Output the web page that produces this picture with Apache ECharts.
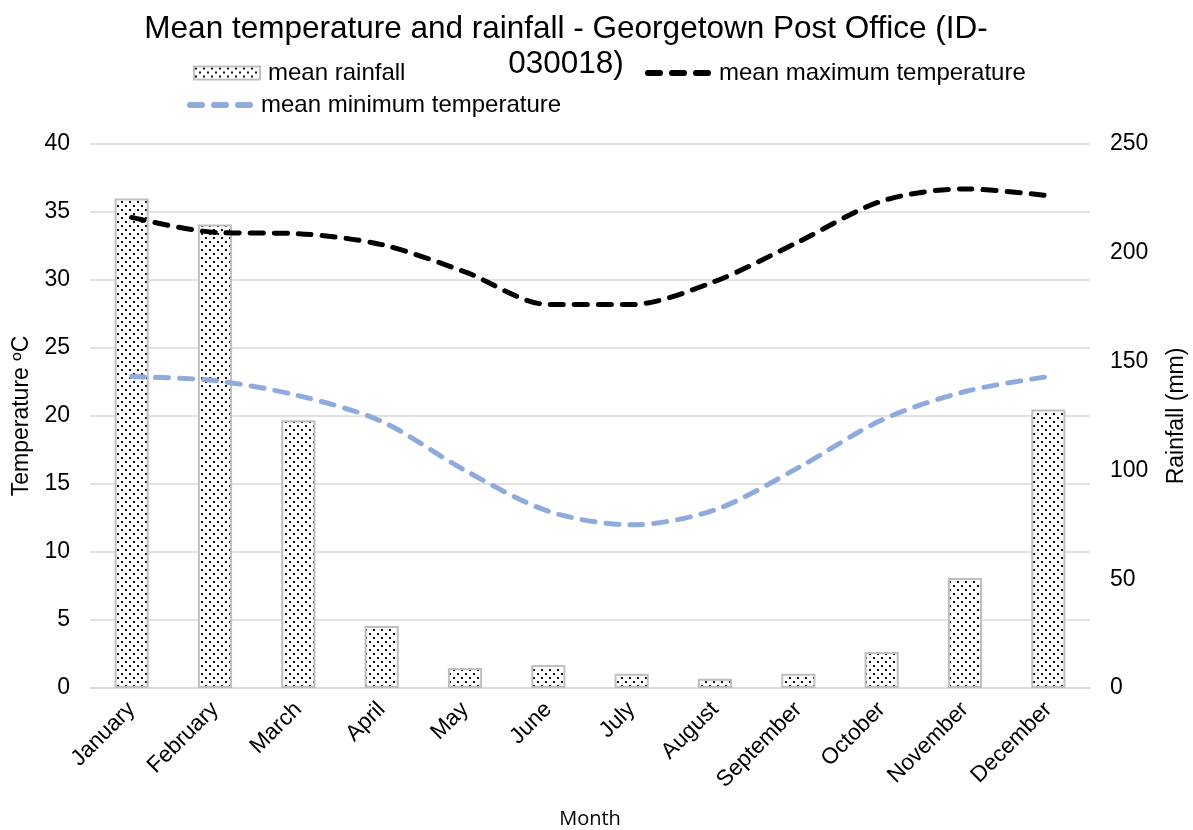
<!DOCTYPE html>
<html>
<head>
<meta charset="utf-8">
<script src="https://cdn.jsdelivr.net/npm/echarts@6/dist/echarts.min.js"></script>
<style>
  html, body { margin: 0; padding: 0; background: #fff; }
  #chart { width: 1193px; height: 830px; }
</style>
</head>
<body>
<div id="chart"></div>
<script>
// Monthly climate averages, Georgetown Post Office (station 030018)
const months = ['January', 'February', 'March', 'April', 'May', 'June',
  'July', 'August', 'September', 'October', 'November', 'December'];
const meanRainfall = [225, 213, 123, 28.5, 9.2, 10.6, 6.5, 4.2, 6.5, 16.5, 50.5, 128];
const meanMaxTemp = [34.6, 33.5, 33.4, 32.6, 30.6, 28.2, 28.2, 29.9, 32.8, 35.8, 36.7, 36.2];
const meanMinTemp = [22.9, 22.6, 21.5, 19.6, 16.0, 13.0, 12.0, 13.1, 16.2, 19.7, 21.8, 22.9];
const tempTicks = [0, 40, 5];
const rainTicks = [0, 250, 50];

const FONT = '"Liberation Sans", Arial, sans-serif';

// Small dotted tile used to fill the rainfall bars
function dotTile() {
  const c = document.createElement('canvas');
  c.width = 8; c.height = 8;
  const g = c.getContext('2d');
  g.fillStyle = '#ffffff';
  g.fillRect(0, 0, 8, 8);
  g.fillStyle = '#111111';
  g.fillRect(1, 1, 2, 2);
  g.fillRect(5, 5, 2, 2);
  return c;
}
const dots = { image: dotTile(), repeat: 'repeat' };

// Three rounded dashes, used as the legend key of the dashed lines
const dashIcon = 'path://M3,0 h12 a3,3 0 0 1 0,6 h-12 a3,3 0 0 1 0,-6 z' +
  ' M27,0 h12 a3,3 0 0 1 0,6 h-12 a3,3 0 0 1 0,-6 z' +
  ' M51,0 h12 a3,3 0 0 1 0,6 h-12 a3,3 0 0 1 0,-6 z';

const legendText = { fontFamily: FONT, fontSize: 24, color: '#000', padding: [0, 0, 0, 3] };

const chart = echarts.init(document.getElementById('chart'), null, { renderer: 'canvas' });

chart.setOption({
  animation: false,
  backgroundColor: '#ffffff',
  textStyle: { fontFamily: FONT },
  title: {
    text: 'Mean temperature and rainfall - Georgetown Post Office (ID-\n030018)',
    left: 566,
    top: 12,
    padding: 0,
    textAlign: 'center',
    textStyle: { fontFamily: FONT, fontSize: 31.5, fontWeight: 'normal', color: '#000', lineHeight: 35 }
  },
  legend: [
    {
      data: [{ name: 'mean rainfall', icon: 'rect' }], left: 193, top: 61, padding: 0,
      itemWidth: 66, itemHeight: 13, itemGap: 8, textStyle: legendText
    },
    {
      data: [{ name: 'mean maximum temperature', icon: dashIcon }], left: 645, top: 61, padding: 0,
      itemWidth: 66, itemHeight: 7, itemGap: 8, textStyle: legendText
    },
    {
      data: [{ name: 'mean minimum temperature', icon: dashIcon }], left: 187, top: 93, padding: 0,
      itemWidth: 66, itemHeight: 7, itemGap: 8, textStyle: legendText
    }
  ],
  grid: { left: 90, right: 103, top: 144, bottom: 142, containLabel: false, outerBoundsMode: 'none' },
  xAxis: {
    type: 'category',
    data: months,
    name: 'Month',
    nameLocation: 'middle',
    nameGap: 121,
    nameTextStyle: { fontFamily: '"Open Sans", sans-serif', fontSize: 20, color: '#000' },
    axisLine: { lineStyle: { color: '#d9d9d9', width: 1.5 } },
    axisTick: { show: false },
    axisLabel: { rotate: 45, fontSize: 22.5, color: '#000', margin: 18, fontFamily: FONT }
  },
  yAxis: [
    {
      type: 'value',
      min: tempTicks[0], max: tempTicks[1], interval: tempTicks[2],
      name: 'Temperature ºC',
      nameLocation: 'middle',
      nameRotate: 90,
      nameGap: 55,
      nameTextStyle: { fontFamily: FONT, fontSize: 23, color: '#000' },
      axisLine: { show: false },
      axisTick: { show: false },
      axisLabel: { fontSize: 23, color: '#000', margin: 20, fontFamily: FONT },
      splitLine: { lineStyle: { color: '#d9d9d9', width: 1.5 } }
    },
    {
      type: 'value',
      position: 'right',
      min: rainTicks[0], max: rainTicks[1], interval: rainTicks[2],
      name: 'Rainfall (mm)',
      nameLocation: 'middle',
      nameRotate: 90,
      nameGap: 75,
      nameTextStyle: { fontFamily: FONT, fontSize: 23, color: '#000' },
      axisLine: { show: false },
      axisTick: { show: false },
      axisLabel: { fontSize: 23, color: '#000', margin: 20, fontFamily: FONT },
      splitLine: { show: false }
    }
  ],
  series: [
    {
      name: 'mean rainfall',
      type: 'bar',
      yAxisIndex: 1,
      data: meanRainfall,
      barWidth: '41%',
      itemStyle: { color: dots, borderColor: '#bfbfbf', borderWidth: 2 }
    },
    {
      name: 'mean maximum temperature',
      type: 'line',
      yAxisIndex: 0,
      data: meanMaxTemp,
      smooth: 0.3,
      symbol: 'none',
      itemStyle: { color: '#000000' },
      lineStyle: { color: '#000000', width: 5, type: [13, 11], cap: 'round' }
    },
    {
      name: 'mean minimum temperature',
      type: 'line',
      yAxisIndex: 0,
      data: meanMinTemp,
      smooth: 0.3,
      symbol: 'none',
      itemStyle: { color: '#8faadc' },
      lineStyle: { color: '#8faadc', width: 5, type: [13, 11], cap: 'round' }
    }
  ]
});
</script>
</body>
</html>
